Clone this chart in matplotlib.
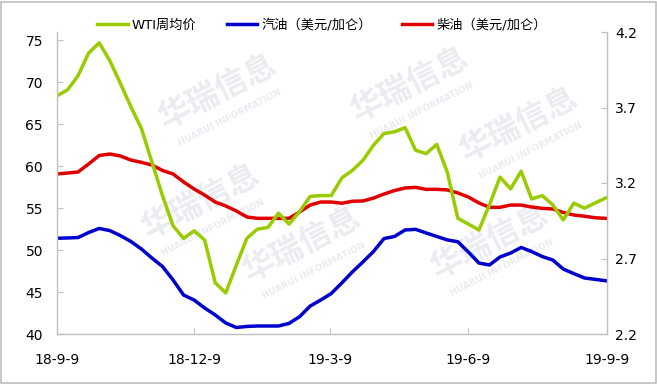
import numpy as np
import pandas as pd
import matplotlib
matplotlib.use("Agg")
import matplotlib.pyplot as plt
from matplotlib.patches import Rectangle

plt.rcParams['font.family'] = ['DejaVu Sans', 'Noto Sans CJK SC']

# ---- data (weekly, starting 2018-09-09) ----
start_date = "2018-09-09"
n_weeks = 53
wti = [68.4, 69.1, 70.8, 73.5, 74.7, 72.6, 69.9, 67.1, 64.5, 60.5,
       56.5, 52.9, 51.4, 52.3, 51.2, 46.1, 44.9, 48.2, 51.4, 52.5,
       52.7, 54.4, 53.1, 54.6, 56.4, 56.5, 56.5, 58.6, 59.5, 60.7,
       62.5, 63.9, 64.1, 64.6, 61.9, 61.5, 62.6, 59.3, 53.8, 53.1,
       52.4, 55.4, 58.7, 57.3, 59.4, 56.1, 56.5, 55.4, 53.6, 55.6,
       55.0, 55.6, 56.2]
gasoline = [2.834, 2.836, 2.839, 2.872, 2.899, 2.885, 2.852, 2.813, 2.763, 2.703,
            2.647, 2.558, 2.458, 2.425, 2.372, 2.326, 2.273, 2.243, 2.250, 2.253,
            2.253, 2.253, 2.270, 2.315, 2.385, 2.425, 2.468, 2.538, 2.611, 2.677,
            2.746, 2.832, 2.846, 2.889, 2.893, 2.869, 2.846, 2.823, 2.811, 2.743,
            2.670, 2.657, 2.710, 2.736, 2.773, 2.746, 2.713, 2.690, 2.630, 2.600,
            2.571, 2.562, 2.553]
diesel = [3.260, 3.266, 3.273, 3.326, 3.382, 3.392, 3.379, 3.352, 3.337, 3.319,
          3.283, 3.260, 3.207, 3.160, 3.120, 3.074, 3.048, 3.015, 2.975, 2.966,
          2.966, 2.966, 2.966, 3.008, 3.054, 3.074, 3.074, 3.066, 3.079, 3.081,
          3.100, 3.127, 3.150, 3.167, 3.171, 3.158, 3.158, 3.154, 3.134, 3.107,
          3.068, 3.039, 3.039, 3.054, 3.054, 3.041, 3.032, 3.028, 3.005, 2.988,
          2.980, 2.970, 2.966]
series_names = ["WTI周均价", "汽油（美元/加仑）", "柴油（美元/加仑）"]
xtick_dates = ["2018-09-09", "2018-12-09", "2019-03-09", "2019-06-09", "2019-09-09"]
xtick_labels = ["18-9-9", "18-12-9", "19-3-9", "19-6-9", "19-9-9"]
left_ticks = [40, 45, 50, 55, 60, 65, 70, 75]
right_ticks = [2.2, 2.7, 3.2, 3.7, 4.2]

dates = pd.date_range(start_date, periods=n_weeks, freq="7D")

W, H = 657, 384
fig = plt.figure(figsize=(W / 100, H / 100), dpi=100)
fig.patch.set_facecolor("white")

ax = fig.add_axes([57 / W, 1 - 334 / H, (607 - 57) / W, (334 - 32) / H])
ax2 = ax.twinx()

# watermarks (behind the axes)
wm_color = "#EAECF1"
wm_pos = [(218, 92), (410, 85), (519, 125), (201, 202), (302, 245), (490, 242)]
for (px, py) in wm_pos:
    fig.text(px / W, 1 - py / H, "华瑞信息", fontsize=23, fontweight="bold",
             color=wm_color, rotation=27, ha="center", va="center",
             family=["Noto Sans CJK SC"], zorder=-5)
    fig.text((px + 12) / W, 1 - (py + 26) / H, "HUARUI INFORMATION", fontsize=6.5,
             fontweight="bold", color=wm_color, rotation=27, ha="center",
             va="center", zorder=-5)

green = "#99CC00"
blue = "#0000CC"
red = "#E00000"
lw = 2.5

l1, = ax.plot(dates, wti, color=green, lw=lw, label=series_names[0])
l2, = ax2.plot(dates, gasoline, color=blue, lw=lw, label=series_names[1])
l3, = ax2.plot(dates, diesel, color=red, lw=lw, label=series_names[2])

ax.set_zorder(ax2.get_zorder() + 1)
ax.patch.set_visible(False)
ax2.patch.set_visible(False)

xt = pd.to_datetime(xtick_dates)
ax.set_xlim(xt[0], xt[-1])
ax.set_xticks(xt)
ax.set_xticklabels(xtick_labels)
ax.set_ylim(40, 76)
ax.set_yticks(left_ticks)
ax2.set_ylim(2.2, 4.2)
ax2.set_yticks(right_ticks)
ax2.set_yticklabels([f"{v:.1f}" for v in right_ticks])

spine_c = "#BFBFBF"
for a in (ax, ax2):
    a.spines["top"].set_visible(False)
    for s in ("left", "right", "bottom"):
        a.spines[s].set_color(spine_c)
        a.spines[s].set_linewidth(1.0)
    a.tick_params(direction="in", length=4, color=spine_c, labelsize=10,
                  labelcolor="black")
ax.spines["right"].set_visible(False)
ax2.spines["left"].set_visible(False)
ax2.spines["bottom"].set_visible(False)
ax.tick_params(axis="x", pad=14)
ax.tick_params(axis="y", pad=10)
ax2.tick_params(axis="y", pad=6)

fig.legend(handles=[l1, l2, l3], loc="center", bbox_to_anchor=(322 / W, 1 - 25 / H),
           ncol=3, frameon=False, handlelength=2.3,
           handletextpad=0.3, columnspacing=2.3,
           prop={"family": ["DejaVu Sans", "Noto Sans CJK SC"], "size": 9.5})

fig.add_artist(Rectangle((0.5 / W, 1.5 / H), (W - 2) / W, (H - 3) / H,
                         transform=fig.transFigure, fill=False,
                         edgecolor="#BFBFBF", lw=1.2))

fig.savefig("out.png", dpi=100)
